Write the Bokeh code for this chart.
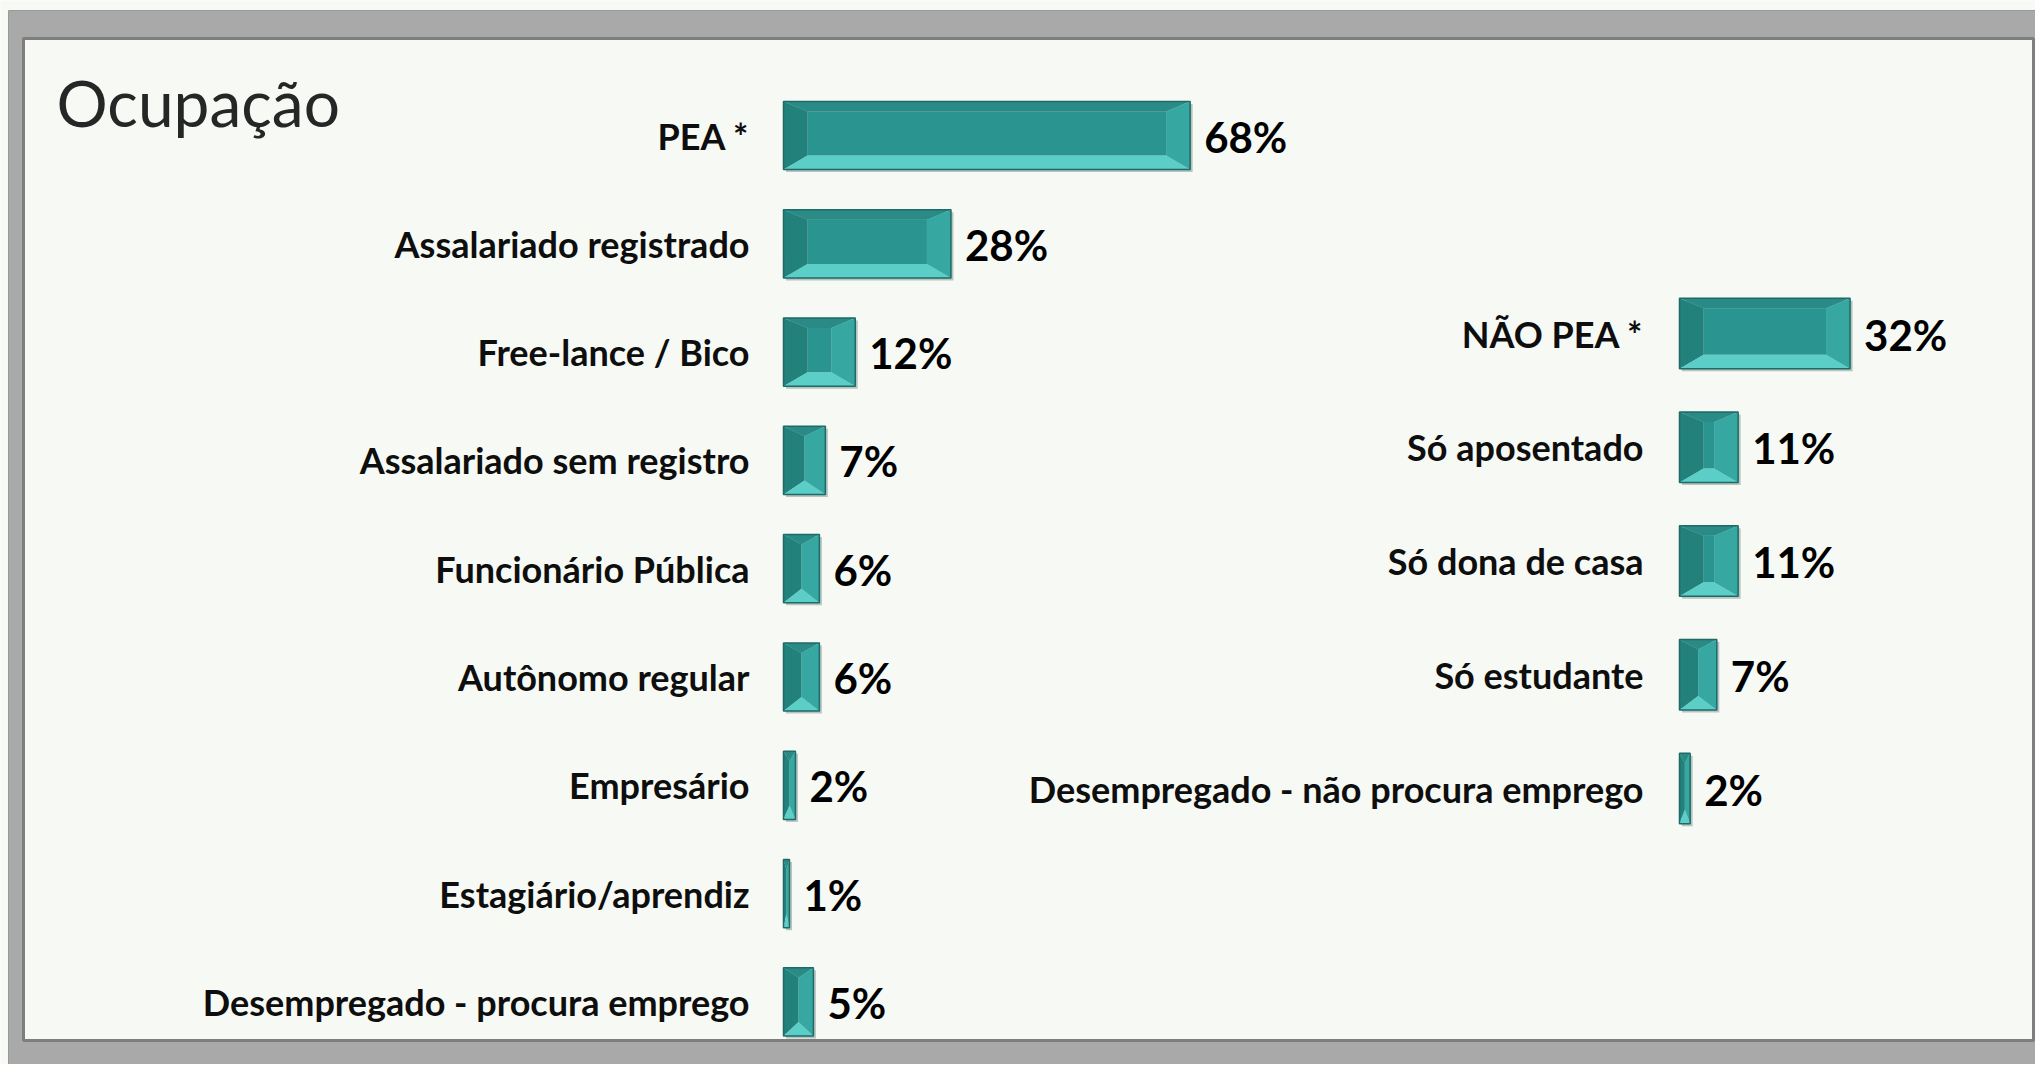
from bokeh.plotting import figure
from bokeh.models import Range1d, ColumnDataSource, Label
from bokeh.embed import file_html
from bokeh.resources import INLINE
from bokeh.core.properties import value

# ---------------- data ----------------
title_text = "Ocupação"
left_categories = ["PEA *", "Assalariado registrado", "Free-lance / Bico",
                   "Assalariado sem registro", "Funcionário Pública",
                   "Autônomo regular", "Empresário", "Estagiário/aprendiz",
                   "Desempregado - procura emprego"]
left_values = [68, 28, 12, 7, 6, 6, 2, 1, 5]
right_categories = ["NÃO PEA *", "Só aposentado", "Só dona de casa",
                    "Só estudante", "Desempregado - não procura emprego"]
right_values = [32, 11, 11, 7, 2]

# ---------------- layout constants (canvas pixels) ----------------
W, H = 2035, 1064

# left panel: px per unit, zero position and first row centre (canvas px)
LPX, LPY = 5.98, 108.3
L_X0, L_Y0 = 783, 135
# right panel
RPX, RPY = 5.33, 113.75
R_X0, R_Y0 = 1679, 333

lx_start = -L_X0 / LPX
ly_top = -L_Y0 / LPY
rx_start = -R_X0 / RPX
ry_top = -R_Y0 / RPY


def px(x):
    return lx_start + x / LPX


def py(y):
    return ly_top + y / LPY


p = figure(width=W, height=H,
           x_range=Range1d(lx_start, lx_start + W / LPX),
           y_range=Range1d(ly_top + H / LPY, ly_top),
           x_axis_type=None, y_axis_type=None,
           output_backend="svg", toolbar_location=None,
           min_border=0, min_border_left=0, min_border_right=0,
           min_border_top=0, min_border_bottom=0,
           background_fill_color="#F6F9F4", border_fill_color="#F6F9F4",
           outline_line_color=None)
p.extra_x_ranges = {"right": Range1d(rx_start, rx_start + W / RPX)}
p.extra_y_ranges = {"right": Range1d(ry_top + H / RPY, ry_top)}

# slide frame: grey border band and light inner panel
p.quad(left=[px(8)], right=[px(2039)], top=[py(10)], bottom=[py(H + 5)],
       fill_color="#A9A9A9", line_color="#9A9A9A", line_width=1)
p.quad(left=[px(23)], right=[px(2033)], top=[py(38)], bottom=[py(1040)],
       fill_color="#F6F9F4", line_color="#7E7E7E", line_width=3)

FACE = "#2A9590"
COLORS = {"top": "#2A8B86", "left": "#23817C", "right": "#36A8A1",
          "bottom": "#5CCEC8", "face": FACE}


def bevel(vals, h, pxx, pxy):
    rows = list(range(len(vals)))
    bx_px, bt_px, bb_px = 24, 10, 14
    out = {k: {"xs": [], "ys": []} for k in COLORS}
    for v, r in zip(vals, rows):
        x0, x1 = 0.0, float(v)
        yt, yb = r - h / 2, r + h / 2
        bx = min(bx_px, v * pxx / 2) / pxx
        bt, bb = bt_px / pxy, bb_px / pxy
        ix0, ix1 = x0 + bx, x1 - bx
        iyt, iyb = yt + bt, yb - bb
        out["face"]["xs"].append([ix0, ix1, ix1, ix0])
        out["face"]["ys"].append([iyt, iyt, iyb, iyb])
        out["top"]["xs"].append([x0, x1, ix1, ix0])
        out["top"]["ys"].append([yt, yt, iyt, iyt])
        out["bottom"]["xs"].append([x0, x1, ix1, ix0])
        out["bottom"]["ys"].append([yb, yb, iyb, iyb])
        out["left"]["xs"].append([x0, ix0, ix0, x0])
        out["left"]["ys"].append([yt, iyt, iyb, yb])
        out["right"]["xs"].append([x1, ix1, ix1, x1])
        out["right"]["ys"].append([yt, iyt, iyb, yb])
    return rows, out


def draw_panel(cats, vals, h, pxx, pxy, label_off, rname=None):
    kw = {}
    if rname:
        kw = {"x_range_name": rname, "y_range_name": rname}
    rows, faces = bevel(vals, h, pxx, pxy)
    src = ColumnDataSource(dict(y=rows, v=vals, cat=cats,
                                lab=[f"{v}%" for v in vals]))
    # soft shadow
    sh = ColumnDataSource(dict(y=[r + 2.5 / pxy for r in rows],
                               left=[2.5 / pxx] * len(vals),
                               right=[v + 2.5 / pxx for v in vals]))
    p.hbar(y="y", left="left", right="right", height=h, source=sh,
           fill_color="#B9C4C1", line_color=None, **kw)
    for k in ("face", "top", "left", "right", "bottom"):
        p.patches(xs=faces[k]["xs"], ys=faces[k]["ys"], fill_color=COLORS[k],
                  line_color=None, **kw)
    p.hbar(y="y", left=0, right="v", height=h, source=src, fill_color=None,
           line_color="#1E6A66", line_width=1.5, **kw)
    p.text(x=0, y="y", text="cat", source=src, x_offset=label_off,
           text_align="right", text_baseline="middle",
           text_font=value("Lato"), text_font_style="bold",
           text_font_size="36px", text_color="#0E0E0E", **kw)
    p.text(x="v", y="y", text="lab", source=src, x_offset=14, y_offset=1,
           text_align="left", text_baseline="middle",
           text_font=value("Lato"), text_font_style="bold",
           text_font_size="42px", text_color="#000000", **kw)


draw_panel(left_categories, left_values, 0.63, LPX, LPY, -34)
draw_panel(right_categories, right_values, 0.62, RPX, RPY, -36, "right")

# title
p.add_layout(Label(x=px(56), y=py(102), text=title_text,
                   text_font="Lato", text_font_size="64px",
                   text_color="#262626", text_baseline="alphabetic",
                   text_align="left"))

open("out.html", "w").write(file_html(p, INLINE))
